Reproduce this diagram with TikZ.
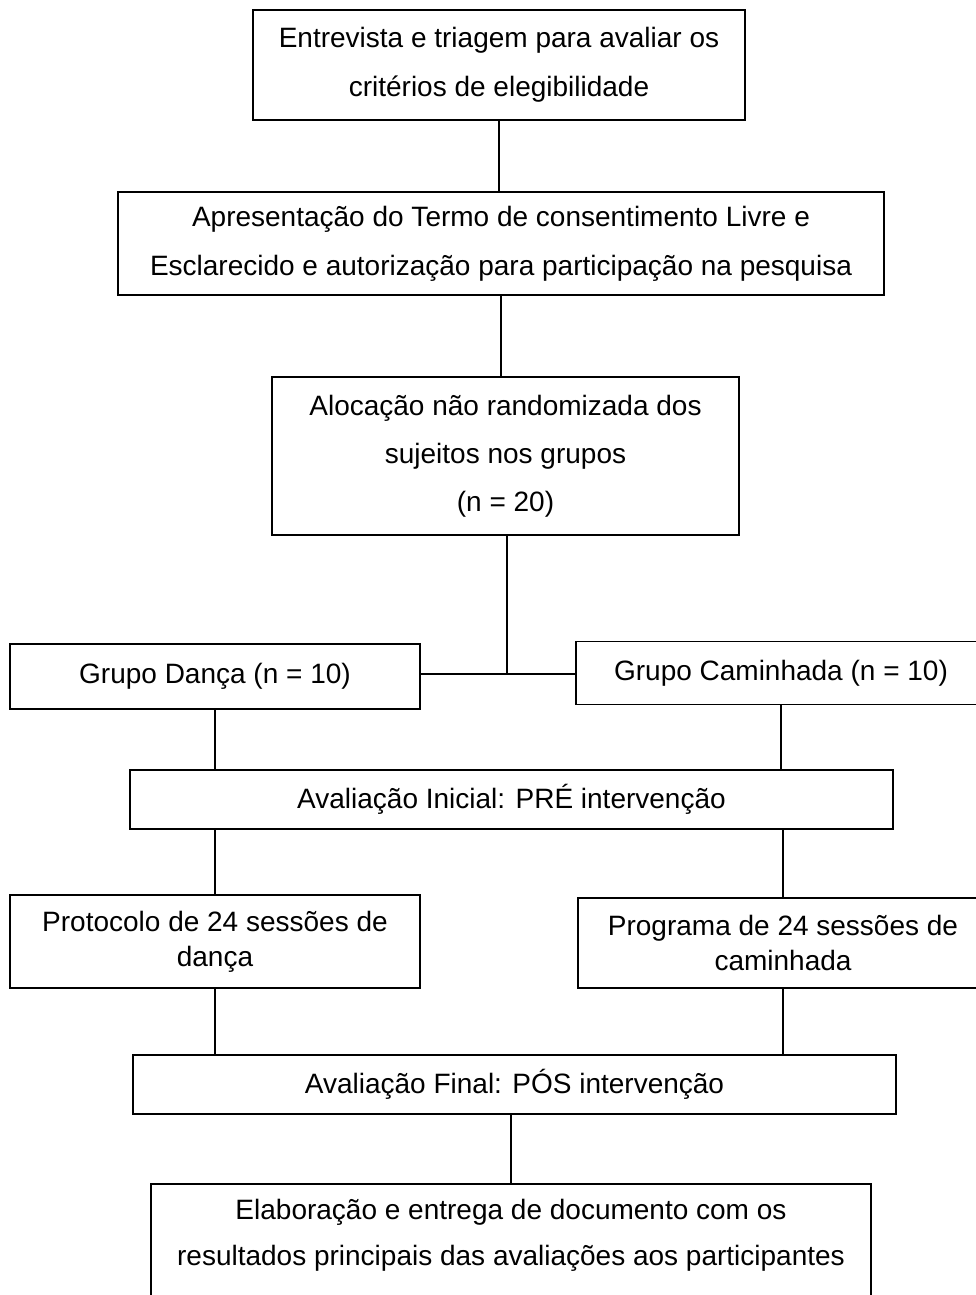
\documentclass[tikz,border=0pt]{standalone}
\usepackage{fontspec}
\setmainfont{Liberation Sans}
\begin{document}
\begin{tikzpicture}[x=1pt,y=-1pt,
  box/.style={draw, line width=1.5pt, align=center, inner sep=0pt, font=\fontsize{28}{49}\selectfont},
  boxs/.style={box, font=\fontsize{28}{35}\selectfont},
  txt/.style={align=center, inner sep=0pt, font=\fontsize{28}{46}\selectfont},
  conn/.style={line width=1.5pt}]
\useasboundingbox (0,0) rectangle (976,1295);
\clip (0,0) rectangle (976,1295);
\fill[white] (0,0) rectangle (976,1295);
\node[box, minimum width=492, minimum height=110] (b1) at (499,65) {Entrevista e triagem para avaliar os\\critérios de elegibilidade};
\node[box, minimum width=766, minimum height=103] (b2) at (501,243.5) {Apresentação do Termo de consentimento Livre e\\Esclarecido e autorização para participação na pesquisa};
\node[box, font=\fontsize{28}{48}\selectfont, minimum width=467, minimum height=158] (b3) at (505.5,456) {Alocação não randomizada dos\\sujeitos nos grupos\\(n = 20)};
\node[box, minimum width=410, minimum height=65] (b4) at (215,676.5) {Grupo Dança (n = 10)};
\node[box, minimum width=410, minimum height=63] (b5) at (781,673) {Grupo Caminhada (n = 10)};
\node[box, minimum width=763, minimum height=59] (b6) at (511.5,799.5) {Avaliação Inicial: PRÉ intervenção};
\node[boxs, minimum width=410, minimum height=93] (b7) at (215,941.5) {Protocolo de 24 sessões de\\dança};
\node[boxs, minimum width=410, minimum height=90] (b8) at (783,943) {Programa de 24 sessões de\\caminhada};
\node[box, minimum width=763, minimum height=59] (b9) at (514.5,1084.5) {Avaliação Final: PÓS intervenção};
\node[box, minimum width=720, minimum height=150, anchor=north] (b10) at (511,1183) {};
\node[txt] (t10) at (511,1235) {Elaboração e entrega de documento com os\\resultados principais das avaliações aos participantes};
\coordinate (split) at (507,674);
\draw[conn] (b1.south) -- (b1.south |- b2.north);
\draw[conn] (b2.south) -- (b2.south |- b3.north);
\draw[conn] (b3.south -| split) -- (split);
\draw[conn] (b4.east |- split) -- (b5.west |- split);
\draw[conn] (b4.south) -- (b4.south |- b6.north);
\draw[conn] (b5.south) -- (b5.south |- b6.north);
\draw[conn] (b6.south -| b7.north) -- (b7.north);
\draw[conn] (b6.south -| b8.north) -- (b8.north);
\draw[conn] (b7.south) -- (b7.south |- b9.north);
\draw[conn] (b9.north -| b8.south) -- (b8.south);
\draw[conn] (b10.north |- b9.south) -- (b10.north);
\end{tikzpicture}
\end{document}
